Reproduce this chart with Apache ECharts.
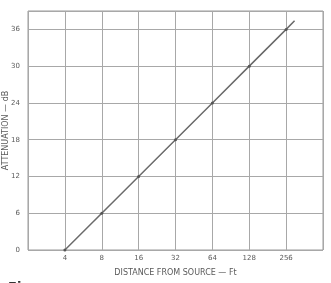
<!DOCTYPE html>
<html><head><meta charset="utf-8">
<script src="https://cdn.jsdelivr.net/npm/echarts@6/dist/echarts.min.js"></script>
<style>html,body{margin:0;padding:0;background:#fff}#c{width:331px;height:283px}</style>
</head><body><div id="c"></div>
<script>
var distances = [4, 8, 16, 32, 64, 128, 256, 300];
var attenuation = [0, 6, 12, 18, 24, 30, 36, 37.4];
var xTickLabels = [4, 8, 16, 32, 64, 128, 256];
var yTickLabels = [0, 6, 12, 18, 24, 30, 36];

var chart = echarts.init(document.getElementById('c'));
var data = distances.map(function (d, i) {
  var item = { value: [d, attenuation[i]] };
  if (i === distances.length - 1) item.symbol = 'none';
  return item;
});
var txt = '#5a5a5a';
chart.setOption({
  animation: false,
  backgroundColor: '#fff',
  title: { text: 'Fig.', left: 3, top: 276, textStyle: { fontSize: 13, fontWeight: 'bold', color: '#333', fontFamily: 'DejaVu Sans' } },
  grid: { left: 28, right: 8, top: 11, bottom: 33, containLabel: false, outerBoundsMode: 'none', show: true, borderColor: '#9a9a9a', borderWidth: 1 },
  xAxis: {
    type: 'log', logBase: 2, min: 2, max: 512, splitNumber: 8,
    name: 'DISTANCE FROM SOURCE — Ft', nameLocation: 'middle', nameGap: 19, nameMoveOverlap: false,
    nameTextStyle: { fontSize: 8, color: txt, fontFamily: 'DejaVu Sans' },
    axisLine: { show: false }, axisTick: { show: false },
    axisLabel: { fontSize: 7, color: txt, margin: 5, fontFamily: 'DejaVu Sans',
      formatter: function (v) { return xTickLabels.indexOf(Math.round(v)) >= 0 ? String(Math.round(v)) : ''; } },
    splitLine: { show: true, lineStyle: { color: '#a8a8a8', width: 1 } }
  },
  yAxis: {
    type: 'value', min: 0, max: 39, interval: 6,
    name: 'ATTENUATION — dB', nameLocation: 'middle', nameGap: 18, nameMoveOverlap: false,
    nameTextStyle: { fontSize: 8, color: txt, fontFamily: 'DejaVu Sans' },
    axisLine: { show: false }, axisTick: { show: false },
    axisLabel: { fontSize: 7, color: txt, margin: 8, fontFamily: 'DejaVu Sans',
      formatter: function (v) { return yTickLabels.indexOf(v) >= 0 ? String(v) : ''; } },
    splitLine: { show: true, lineStyle: { color: '#a8a8a8', width: 1 } }
  },
  series: [{
    type: 'line', data: data, symbol: 'circle', symbolSize: 3,
    itemStyle: { color: '#555' },
    lineStyle: { color: '#6a6a6a', width: 1.5 }
  }]
});
</script></body></html>
